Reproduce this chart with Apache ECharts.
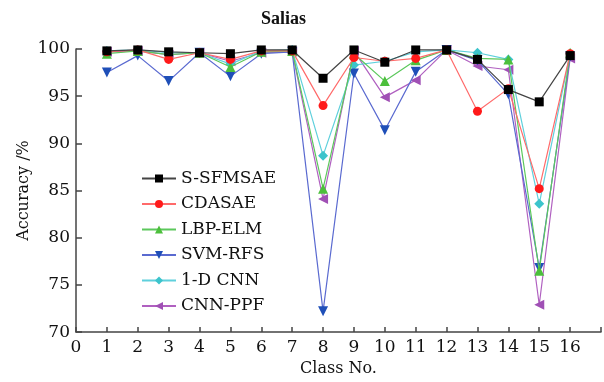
<!DOCTYPE html>
<html><head><meta charset="utf-8">
<script src="https://cdn.jsdelivr.net/npm/echarts@6/dist/echarts.min.js"></script>
<style>html,body{margin:0;padding:0;background:#fff}#c{width:604px;height:382px}</style>
</head><body><div id="c"></div>
<script>
const classes = [1,2,3,4,5,6,7,8,9,10,11,12,13,14,15,16];
const seriesNames = ['S-SFMSAE','CDASAE','LBP-ELM','SVM-RFS','1-D CNN','CNN-PPF'];
const sSFMSAE = [99.8, 99.9, 99.7, 99.6, 99.5, 99.9, 99.9, 96.9, 99.9, 98.6, 99.9, 99.9, 98.9, 95.7, 94.4, 99.3];
const cdasae  = [99.7, 99.9, 98.9, 99.6, 98.9, 99.8, 99.8, 94.0, 99.1, 98.7, 99.0, 99.9, 93.4, 95.8, 85.2, 99.5];
const lbpElm  = [99.5, 99.8, 99.4, 99.6, 98.1, 99.7, 99.8, 85.2, 99.5, 96.6, 98.8, 99.9, 99.0, 98.9, 76.5, 99.6];
const svmRfs  = [97.5, 99.3, 96.6, 99.6, 97.1, 99.5, 99.7, 72.2, 97.4, 91.4, 97.6, 99.9, 98.8, 95.2, 76.8, 99.2];
const cnn1d   = [99.8, 99.9, 99.6, 99.6, 98.4, 99.8, 99.9, 88.7, 98.3, 98.7, 99.7, 99.9, 99.6, 98.9, 83.6, 99.5];
const cnnPpf  = [99.7, 99.8, 99.4, 99.6, 98.7, 99.6, 99.7, 84.1, 99.8, 94.9, 96.7, 99.9, 98.2, 97.8, 72.9, 99.0];
const yTicks = [70, 75, 80, 85, 90, 95, 100];

const allData = [sSFMSAE, cdasae, lbpElm, svmRfs, cnn1d, cnnPpf];
const lineColors = ['#444444','#ff6a6a','#5cc85c','#5a6ad0','#5fd0dc','#b060c0'];
const markColors = ['#000000','#ff1a1a','#4cbf3c','#1f4fb8','#3cc4cc','#a050b5'];
const symbols = ['rect','circle','triangle','triangle','diamond','triangle'];
const rotates = [0,0,0,180,0,90];
const sizes = [9,9,10,10,10,10];
const font = 'DejaVu Serif';

const chart = echarts.init(document.getElementById('c'));
chart.setOption({
  animation:false,
  backgroundColor:'#fff',
  title:{text:'Salias', left:256, top:5, textStyle:{fontFamily:'Liberation Serif', fontSize:18, fontWeight:'bold', color:'#111'}},
  grid:{left:76, top:49, width:535, bottom:44, containLabel:false},
  legend:{
    orient:'vertical', left:136, top:165, itemWidth:34, itemHeight:10, itemGap:8.5,
    textStyle:{fontFamily:font, fontSize:17, color:'#111'},
    data:seriesNames
  },
  xAxis:{
    type:'value', min:0, max:17, interval:1,
    name:'Class No.', nameLocation:'middle', nameGap:28,
    nameTextStyle:{fontFamily:font, fontSize:16, color:'#111'},
    axisLine:{lineStyle:{color:'#444', width:1.5}},
    axisTick:{inside:true, length:5, lineStyle:{color:'#444', width:1.5}},
    axisLabel:{fontFamily:font, fontSize:17, color:'#111', margin:7,
      formatter:v=> v<=16 ? String(v) : ''},
    splitLine:{show:false}
  },
  yAxis:{
    type:'value', min:yTicks[0], max:yTicks[yTicks.length-1], interval:5,
    name:'Accuracy /%', nameLocation:'middle', nameGap:44, nameMoveOverlap:false,
    nameTextStyle:{fontFamily:font, fontSize:16, color:'#111'},
    axisLine:{show:true, lineStyle:{color:'#444', width:1.5}},
    axisTick:{show:true, inside:true, length:6, lineStyle:{color:'#444', width:1.5}},
    axisLabel:{fontFamily:font, fontSize:17, color:'#111', margin:6},
    splitLine:{show:false}
  },
  series: seriesNames.map((n,i)=>({
    name:n, type:'line',
    data: classes.map((c,k)=>[c, allData[i][k]]),
    symbol:symbols[i], symbolSize:sizes[i], symbolRotate:rotates[i],
    lineStyle:{color:lineColors[i], width:1.2},
    itemStyle:{color:markColors[i]},
    z: 10 - i
  }))
});
</script></body></html>
